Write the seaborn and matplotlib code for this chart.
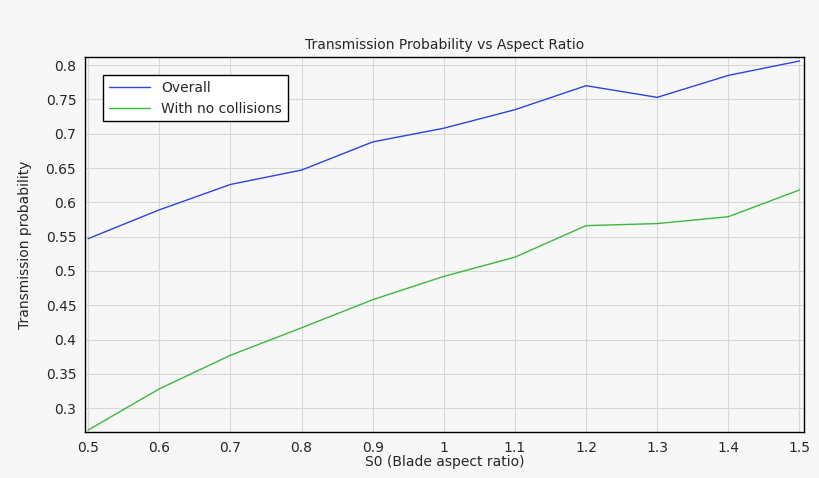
import matplotlib
matplotlib.use("Agg")
import matplotlib.pyplot as plt
import seaborn as sns
import pandas as pd

aspect_ratio = [0.5, 0.6, 0.7, 0.8, 0.9, 1.0, 1.1, 1.2, 1.3, 1.4, 1.5]
overall = [0.547, 0.589, 0.626, 0.647, 0.688, 0.708, 0.735, 0.770, 0.753, 0.785, 0.806]
no_collisions = [0.268, 0.328, 0.377, 0.417, 0.458, 0.492, 0.520, 0.566, 0.569, 0.579, 0.618]

df = pd.DataFrame({"x": aspect_ratio * 2,
                   "y": overall + no_collisions,
                   "series": ["Overall"] * 11 + ["With no collisions"] * 11})

sns.set_style("whitegrid")
plt.rcParams['font.family'] = ['DejaVu Sans']
fig = plt.figure(figsize=(8.2, 4.78), dpi=100, facecolor="#f7f7f7")
ax = fig.add_axes([0.104, 0.096, 0.877, 0.785])
ax.set_facecolor("#f7f7f7")
sns.lineplot(data=df, x="x", y="y", hue="series",
             palette=["#2b44dd", "#3cb83c"], linewidth=1, ax=ax)
ax.set_xlim(0.496, 1.507)
ax.set_ylim(0.265, 0.812)
ax.set_xticks(aspect_ratio)
ax.set_xticklabels(["0.5", "0.6", "0.7", "0.8", "0.9", "1", "1.1", "1.2", "1.3", "1.4", "1.5"])
ax.set_yticks([0.3, 0.35, 0.4, 0.45, 0.5, 0.55, 0.6, 0.65, 0.7, 0.75, 0.8])
ax.set_yticklabels(["0.3", "0.35", "0.4", "0.45", "0.5", "0.55", "0.6", "0.65", "0.7", "0.75", "0.8"])
ax.grid(color="#d8d8d8", linewidth=0.8)
for s in ax.spines.values():
    s.set_color("black"); s.set_linewidth(1)
ax.tick_params(axis="both", labelsize=10, length=3, direction="out", color="black")
ax.set_xlabel("S0 (Blade aspect ratio)", fontsize=10, labelpad=0)
ax.set_ylabel("Transmission probability", fontsize=10, labelpad=10)
ax.set_title("Transmission Probability vs Aspect Ratio", fontsize=10, pad=6)
leg = ax.legend(loc="upper left", bbox_to_anchor=(0.015, 0.97), fontsize=10,
                fancybox=False, edgecolor="black", framealpha=1, handlelength=3)
leg.get_frame().set_linewidth(1)
fig.savefig("out.png", dpi=100, facecolor=fig.get_facecolor())
